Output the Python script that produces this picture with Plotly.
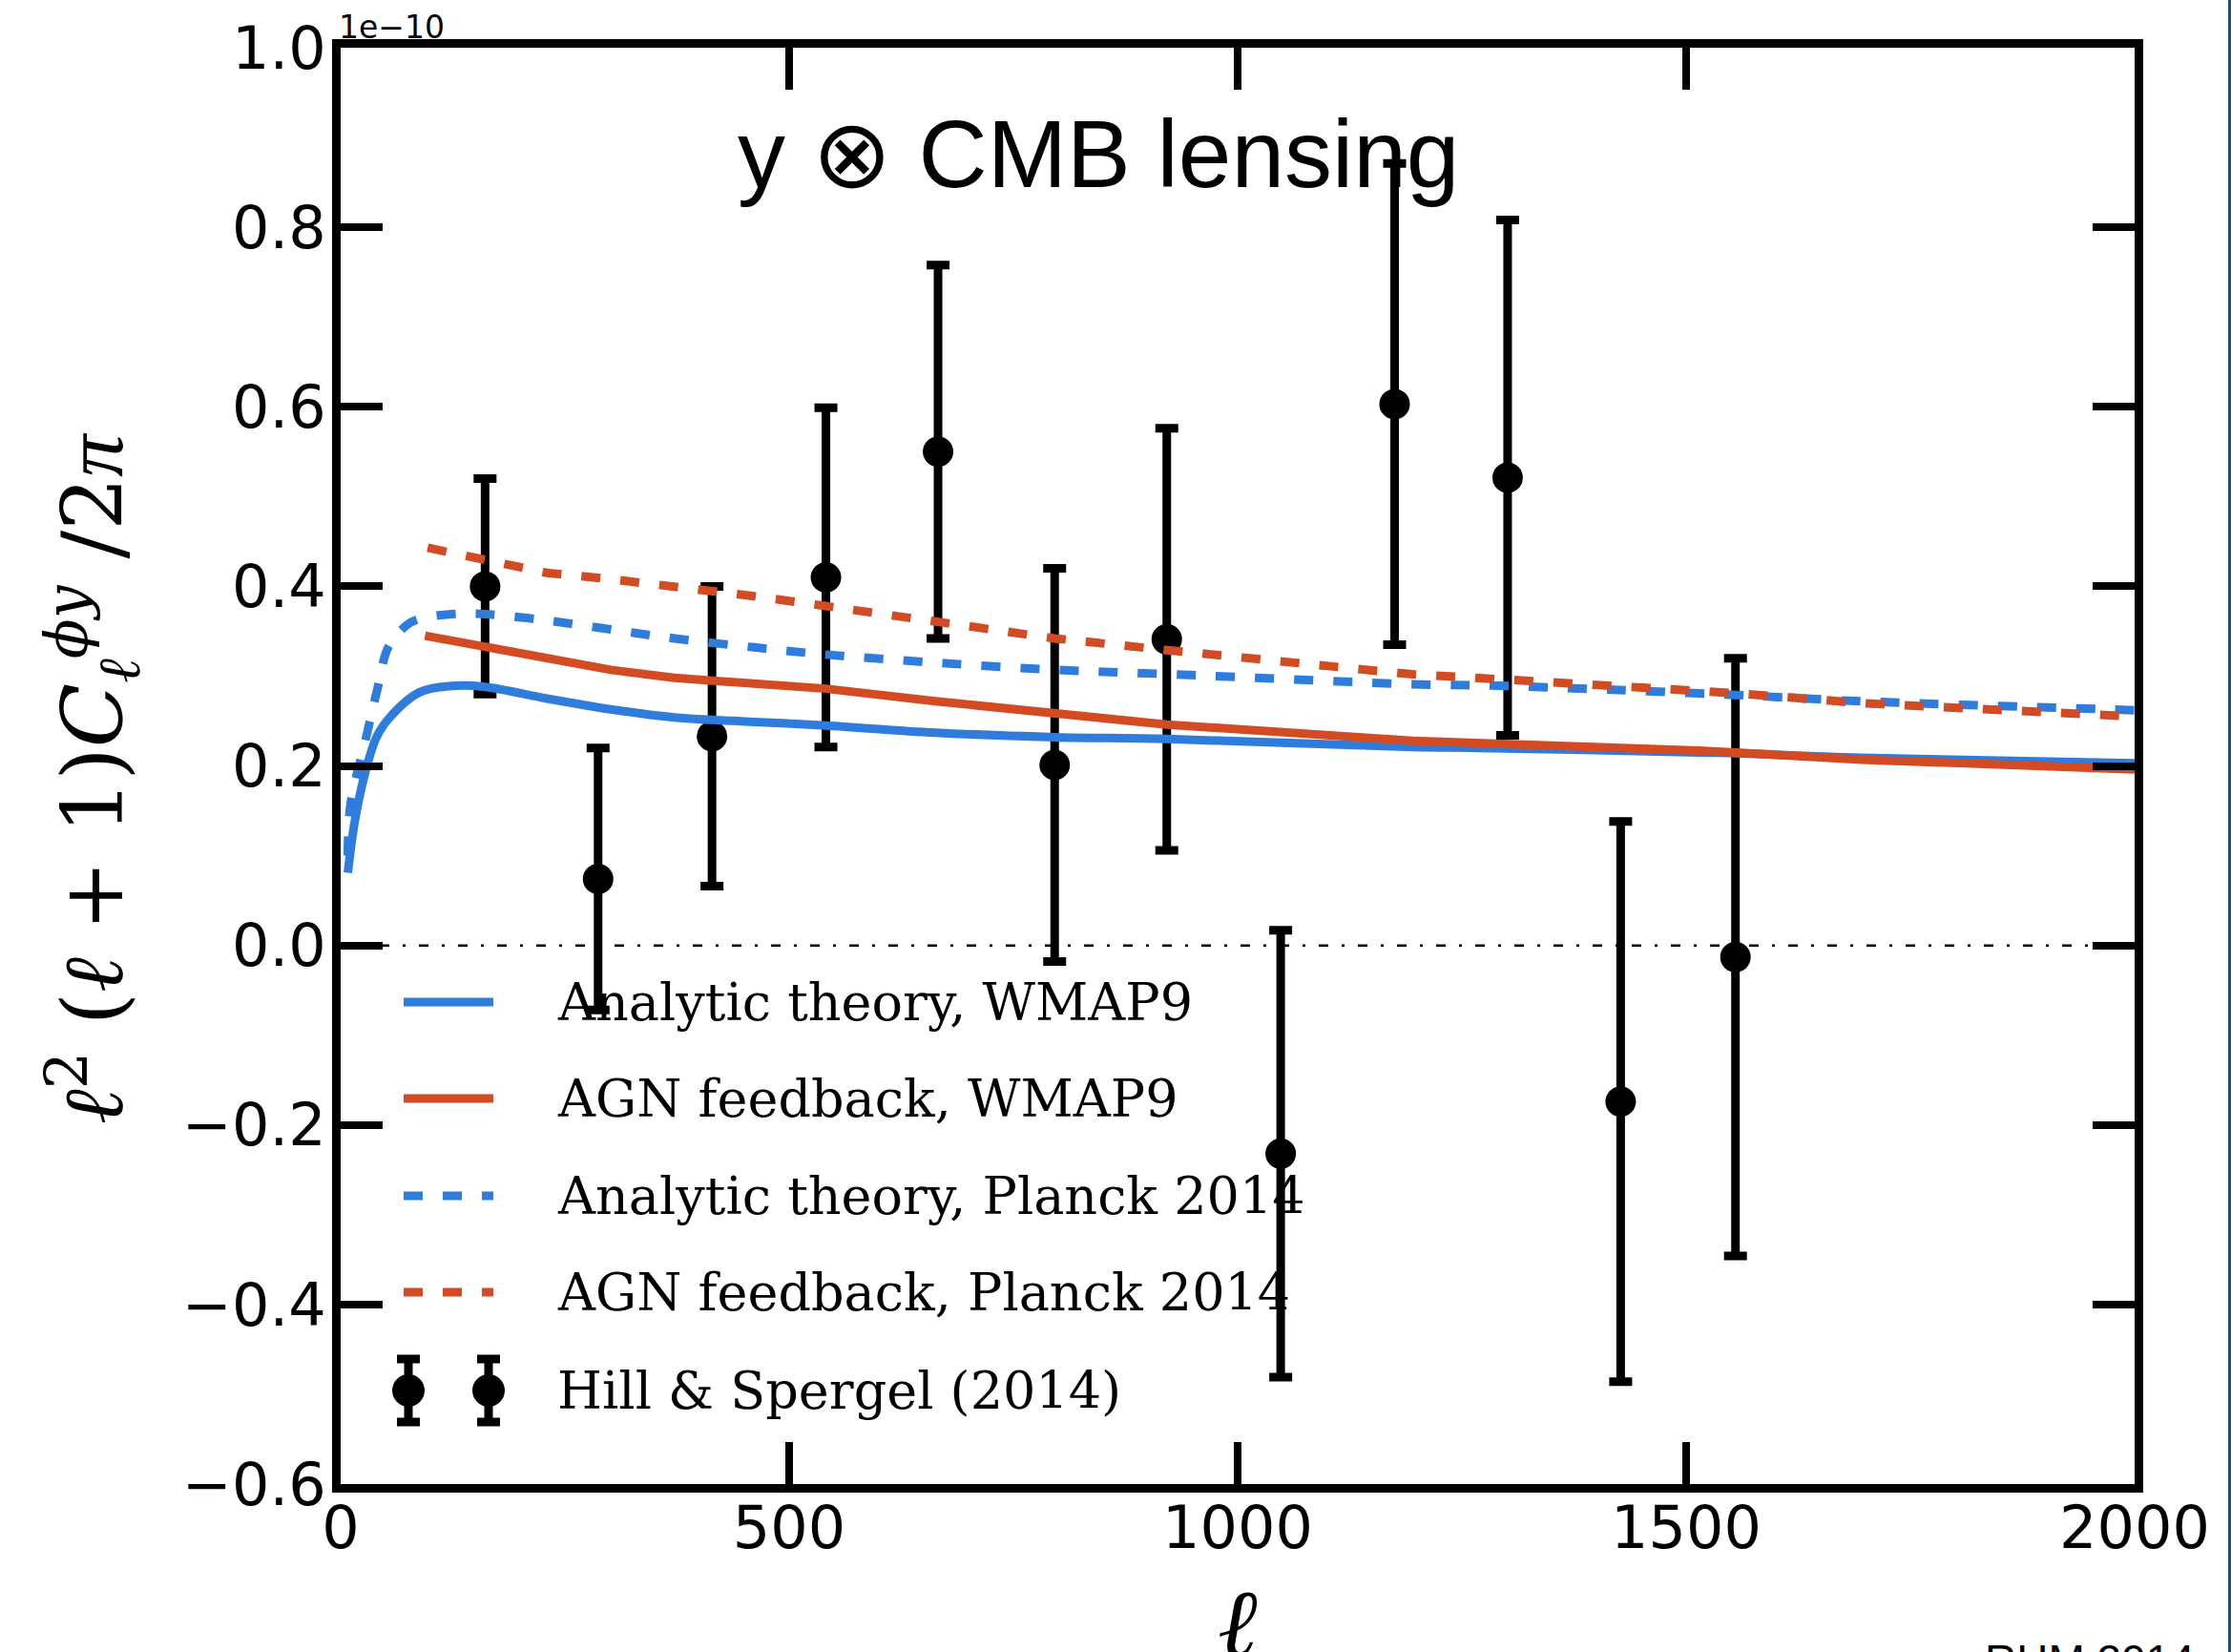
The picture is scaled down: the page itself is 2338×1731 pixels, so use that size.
import plotly.graph_objects as go

# Hill & Spergel (2014) tSZ x CMB lensing band powers, l^2 (l+1) C_l / 2pi in units of 1e-10
ell_data = [161, 287, 414, 541, 666, 796, 921, 1048, 1175, 1301, 1427, 1555]
cl_data = [0.400, 0.074, 0.233, 0.410, 0.550, 0.201, 0.341, -0.232, 0.603, 0.521, -0.174, -0.013]
cl_err = [0.120, 0.146, 0.167, 0.189, 0.208, 0.219, 0.235, 0.249, 0.268, 0.287, 0.312, 0.333]

# Analytic halo-model theory, WMAP9 cosmology
ell_an_wmap9 = [8, 16, 28, 40, 53, 88, 124, 161, 230, 301, 372, 461, 541, 663, 796, 921,
                1195, 1269, 1514, 1555, 1695, 2000]
cl_an_wmap9 = [0.081, 0.140, 0.195, 0.232, 0.252, 0.282, 0.289, 0.288, 0.275, 0.263, 0.254,
               0.249, 0.245, 0.237, 0.232, 0.230, 0.221, 0.220, 0.215, 0.214, 0.209, 0.203]

# AGN feedback simulations, WMAP9 cosmology
ell_agn_wmap9 = [94, 161, 230, 301, 372, 461, 541, 663, 796, 921, 1195, 1301, 1514, 1555,
                 1695, 2000]
cl_agn_wmap9 = [0.345, 0.332, 0.320, 0.307, 0.298, 0.292, 0.286, 0.272, 0.258, 0.246, 0.228,
                0.225, 0.217, 0.215, 0.207, 0.196]

# Analytic halo-model theory, Planck 2014 cosmology
ell_an_planck = [8, 11, 28, 42, 53, 74, 88, 124, 161, 230, 301, 372, 461, 541, 663, 796, 929,
                 1195, 1301, 1411, 1555, 1695, 1970, 2000]
cl_an_planck = [0.100, 0.157, 0.230, 0.290, 0.332, 0.357, 0.364, 0.369, 0.369, 0.362, 0.352,
                0.342, 0.332, 0.324, 0.315, 0.307, 0.302, 0.291, 0.289, 0.285, 0.279, 0.272,
                0.263, 0.262]

# AGN feedback simulations, Planck 2014 cosmology
ell_agn_planck = [97, 161, 230, 301, 372, 461, 541, 663, 796, 921, 1131, 1195, 1301, 1514,
                  1555, 1695, 2000]
cl_agn_planck = [0.443, 0.429, 0.415, 0.408, 0.400, 0.389, 0.378, 0.360, 0.342, 0.329, 0.310,
                 0.302, 0.296, 0.284, 0.281, 0.270, 0.255]

x_ticks = [0, 500, 1000, 1500, 2000]
x_ticklabels = ["0", "500", "1000", "1500", "2000"]
y_ticks = [-0.6, -0.4, -0.2, 0.0, 0.2, 0.4, 0.6, 0.8, 1.0]
y_ticklabels = ["\u22120.6", "\u22120.4", "\u22120.2", "0.0", "0.2", "0.4", "0.6", "0.8", "1.0"]

legend_labels = [
    "Analytic theory, WMAP9",
    "AGN feedback, WMAP9",
    "Analytic theory, Planck 2014",
    "AGN feedback, Planck 2014",
    "Hill &amp; Spergel (2014)",
]

BLUE = "#2e7ddc"
RED = "#d24b22"
DASH = "20px,21px"

W, H = 2338, 1731
ML, MR, MT, MB = 357, 101, 50, 176
PW, PH = W - ML - MR, H - MT - MB


def px(x):
    return (x - ML) / PW


def py(y):
    return (H - MB - y) / PH


fig = go.Figure()

fig.add_trace(go.Scatter(
    x=[x_ticks[0], x_ticks[-1]], y=[0, 0], mode="lines",
    line=dict(color="black", width=2.5, dash="10px,14px,3px,14px"),
    showlegend=False, hoverinfo="skip"))

fig.add_trace(go.Scatter(
    x=ell_data, y=cl_data, mode="markers",
    marker=dict(color="black", size=32),
    error_y=dict(type="data", array=cl_err, visible=True, color="black",
                 thickness=9, width=12),
    showlegend=False))

curves = [
    (ell_an_wmap9, cl_an_wmap9, BLUE, "solid", "spline"),
    (ell_agn_wmap9, cl_agn_wmap9, RED, "solid", "linear"),
    (ell_an_planck, cl_an_planck, BLUE, DASH, "spline"),
    (ell_agn_planck, cl_agn_planck, RED, DASH, "linear"),
]
for xs, ys, col, dash, shape in curves:
    fig.add_trace(go.Scatter(
        x=xs, y=ys, mode="lines",
        line=dict(color=col, width=9, dash=dash, shape=shape),
        showlegend=False))

shapes = []
annotations = []

# hand-placed legend
row_y = [1050, 1151, 1253, 1354, 1457]
styles = [(BLUE, "solid"), (RED, "solid"), (BLUE, DASH), (RED, DASH)]
for (col, dash), yy in zip(styles, row_y[:4]):
    shapes.append(dict(type="line", xref="paper", yref="paper",
                       x0=px(423), x1=px(517), y0=py(yy), y1=py(yy),
                       line=dict(color=col, width=9, dash=dash)))
for cx in (428, 512):
    yy = row_y[4]
    shapes.append(dict(type="line", xref="paper", yref="paper",
                       x0=px(cx), x1=px(cx), y0=py(yy - 33), y1=py(yy + 33),
                       line=dict(color="black", width=9)))
    for cy in (yy - 33, yy + 33):
        shapes.append(dict(type="line", xref="paper", yref="paper",
                           x0=px(cx - 12), x1=px(cx + 12), y0=py(cy), y1=py(cy),
                           line=dict(color="black", width=9)))
    shapes.append(dict(type="circle", xref="paper", yref="paper",
                       x0=px(cx - 17), x1=px(cx + 17), y0=py(yy + 17), y1=py(yy - 17),
                       fillcolor="black", line=dict(width=0)))
for label, yy in zip(legend_labels, row_y):
    annotations.append(dict(text=label, xref="paper", yref="paper", x=px(582), y=py(yy),
                            xanchor="left", yanchor="middle", showarrow=False,
                            font=dict(family="DejaVu Serif", size=54, color="black")))

# frame edge on the right
shapes.append(dict(type="line", xref="paper", yref="paper",
                   x0=px(2336.5), x1=px(2336.5), y0=py(H + 5), y1=py(-5),
                   line=dict(color="#1e4d78", width=3)))

annotations += [
    dict(text="y \u2297 CMB lensing", xref="paper", yref="paper", x=px(1151), y=py(161),
         xanchor="center", yanchor="middle", showarrow=False,
         font=dict(family="Liberation Sans", size=100, color="black")),
    dict(text="1e\u221210", xref="paper", yref="paper", x=px(353), y=py(29),
         xanchor="left", yanchor="middle", showarrow=False,
         font=dict(family="DejaVu Sans", size=33, color="black")),
    dict(text="<i>\u2113</i><sup>2</sup> (<i>\u2113</i> + 1)<i>C</i><sub><i>\u2113</i></sub>"
              "<sup><i>\u03d5y</i></sup> /2"
              "<span style='font-family:Liberation Serif'><i>\u03c0</i></span>",
         xref="paper", yref="paper", x=px(97), y=py(816), textangle=-90,
         xanchor="center", yanchor="middle", showarrow=False,
         font=dict(family="DejaVu Serif", size=88, color="black")),
    dict(text="<i>\u2113</i>", xref="paper", yref="paper", x=px(1297), y=py(1640),
         xanchor="center", yanchor="top", showarrow=False,
         font=dict(family="DejaVu Serif", size=100, color="black")),
    dict(text="RHM 2014", xref="paper", yref="paper", x=px(2078), y=py(1712),
         xanchor="left", yanchor="top", showarrow=False,
         font=dict(family="Liberation Sans", size=46, color="black")),
]

axis_common = dict(showline=True, linewidth=9, linecolor="black", mirror="allticks",
                   ticks="inside", ticklen=44, tickwidth=8, tickcolor="black",
                   showgrid=False, zeroline=False,
                   tickfont=dict(family="DejaVu Sans", size=62, color="black"))

fig.update_layout(
    width=W, height=H, autosize=False,
    margin=dict(l=ML, r=MR, t=MT, b=MB),
    paper_bgcolor="white", plot_bgcolor="white",
    showlegend=False,
    xaxis=dict(range=[0, 2000], tickvals=x_ticks, ticktext=x_ticklabels,
               ticklabelstandoff=-16, **axis_common),
    yaxis=dict(range=[-0.6, 1.0], tickvals=y_ticks, ticktext=y_ticklabels,
               ticklabelstandoff=-6, **axis_common),
    shapes=shapes,
    annotations=annotations,
)

fig.write_html("out.html")
